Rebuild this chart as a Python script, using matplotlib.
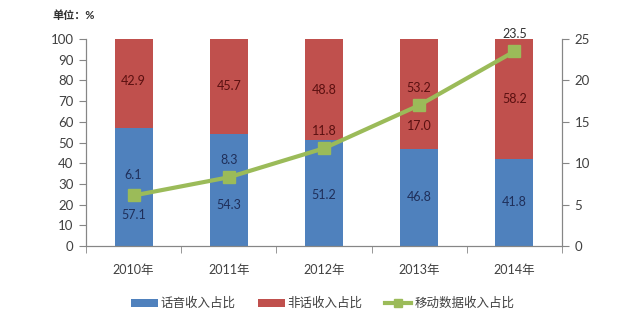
import numpy as np
import matplotlib
matplotlib.use('Agg')
import matplotlib.pyplot as plt
from matplotlib.patches import Patch
from matplotlib.lines import Line2D

plt.rcParams['font.family'] = ['Lato', 'Noto Sans CJK SC', 'DejaVu Sans']

years = ['2010年', '2011年', '2012年', '2013年', '2014年']
voice = [57.1, 54.3, 51.2, 46.8, 41.8]
non_voice = [42.9, 45.7, 48.8, 53.2, 58.2]
mobile_data = [6.1, 8.3, 11.8, 17.0, 23.5]

# label nudges (pixels) copied from how the labels sit in the original
voice_label_dy = [-28, -15, -2, 1, 1]
nonvoice_label_dy = [2, 0, 0, 6, 0]
data_label_dy = [20, 17, 17, -21, 17]

blue = '#4F81BD'
red = '#C0504D'
green = '#9BBB59'
axis_gray = '#868686'
text_gray = '#404040'

fig = plt.figure(figsize=(6.4, 3.34), dpi=100)
ax = fig.add_axes([86/640, 88/334, 476/640, 207/334])
ax2 = ax.twinx()

x = np.arange(len(years))
ax.bar(x, voice, width=0.4, color=blue, zorder=2)
ax.bar(x, non_voice, width=0.4, bottom=voice, color=red, zorder=2)

ax.set_ylim(0, 100)
ax.set_xlim(-0.5, len(years) - 0.5)
ax.set_yticks(np.arange(0, 101, 10))
ax.set_xticks(x)
ax.set_xticklabels(years)
ax.set_xticks(np.arange(-0.5, len(years), 1), minor=True)
ax.tick_params(axis='x', which='major', length=0, pad=13, labelsize=9, labelcolor=text_gray)
ax.tick_params(axis='x', which='minor', length=5, color=axis_gray, direction='out')
ax.tick_params(axis='y', length=5, color=axis_gray, labelsize=9.5, labelcolor=text_gray, pad=4)

ax2.set_ylim(0, 25)
ax2.set_yticks(np.arange(0, 26, 5))
ax2.tick_params(axis='y', length=5, color=axis_gray, labelsize=9.5, labelcolor=text_gray, pad=4)

for a in (ax, ax2):
    a.spines['top'].set_visible(False)
    for s in ('left', 'right', 'bottom'):
        a.spines[s].set_color(axis_gray)
        a.spines[s].set_linewidth(0.8)

for i in range(len(years)):
    ax.annotate(f'{voice[i]:.1f}', (x[i], voice[i] / 2), xytext=(0, voice_label_dy[i]),
                textcoords='offset pixels', ha='center', va='center', fontsize=9, color='#1F2F5A')
    ax.annotate(f'{non_voice[i]:.1f}', (x[i], voice[i] + non_voice[i] / 2), xytext=(0, nonvoice_label_dy[i]),
                textcoords='offset pixels', ha='center', va='center', fontsize=9, color='#5A1010')

ax2.plot(x, mobile_data, color=green, linewidth=3, marker='s', markersize=9, zorder=3)
for i in range(len(years)):
    ax2.annotate(f'{mobile_data[i]:.1f}', (x[i], mobile_data[i]), xytext=(0, data_label_dy[i]),
                 textcoords='offset pixels', ha='center', va='center', fontsize=9,
                 color='#1F2F5A' if i < 2 else ('#5A1010' if i < 4 else '#303030'))

fig.text(52/640, 1 - 15/334, '单位：%', fontsize=8, fontweight='bold', color='#303030', va='center')

handles = [Patch(facecolor=blue, edgecolor='none'),
           Patch(facecolor=red, edgecolor='none'),
           Line2D([], [], color=green, linewidth=3, marker='s', markersize=6)]
fig.legend(handles, ['话音收入占比', '非话收入占比', '移动数据收入占比'], loc='center',
           bbox_to_anchor=(323/640, 31/334), ncol=3, frameon=False, fontsize=9,
           handlelength=2.1, handleheight=0.6, handletextpad=0.25, columnspacing=1.8,
           labelcolor=text_gray)

fig.savefig('out.png', dpi=100)
